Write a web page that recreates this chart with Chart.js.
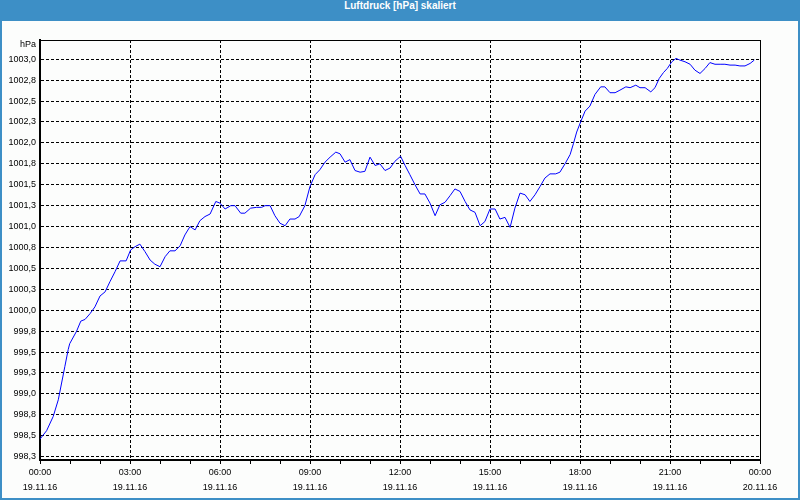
<!DOCTYPE html>
<html>
<head>
<meta charset="utf-8">
<script src="https://cdn.jsdelivr.net/npm/chart.js@4.4.0/dist/chart.umd.min.js"></script>
<style>
    html, body { margin: 0; padding: 0; background: #fff; }
    #frame { position: relative; width: 800px; height: 500px; background: #3d8fc6; overflow: hidden; }
    #title { position: absolute; left: 0; top: 0; width: 800px; height: 21px; line-height: 19px; text-align: center; color: #fff; font: bold 10px "Liberation Sans", Arial, sans-serif; }
    #panel { position: absolute; left: 2px; top: 21px; width: 796px; height: 477px; background: #fcfdfc; }
</style>
</head>
<body>
<div id="frame">
    <div id="title">Luftdruck [hPa] skaliert</div>
    <div id="panel"><canvas id="myChart" width="796" height="477"></canvas></div>
</div>
<script>
// time in hours since 19.11.16 00:00, pressure in hPa
const hours = [
    0.00, 0.22, 0.44, 0.61, 0.72, 0.83, 0.94, 0.99, 1.22, 1.36, 1.50, 1.67, 1.83,
    2.00, 2.17, 2.33, 2.50, 2.67, 2.87, 3.02, 3.17, 3.33, 3.50, 3.67, 3.83,
    4.00, 4.17, 4.33, 4.50, 4.67, 4.83, 5.00, 5.17, 5.33, 5.50, 5.67, 5.86,
    6.00, 6.17, 6.36, 6.50, 6.69, 6.83, 7.02, 7.22, 7.39, 7.50, 7.67, 7.83,
    8.00, 8.17, 8.33, 8.50, 8.64, 8.83, 9.00, 9.17, 9.33, 9.50, 9.67, 9.86,
    10.00, 10.17, 10.33, 10.50, 10.67, 10.83, 11.00, 11.17, 11.33, 11.50, 11.67, 11.83,
    12.02, 12.17, 12.33, 12.50, 12.67, 12.83, 13.00, 13.17, 13.33, 13.50, 13.67, 13.83,
    14.00, 14.17, 14.33, 14.50, 14.67, 14.83, 15.00, 15.17, 15.33, 15.50, 15.67, 15.83,
    16.00, 16.17, 16.33, 16.50, 16.67, 16.83, 17.00, 17.19, 17.33, 17.50, 17.67, 17.78, 17.89,
    18.02, 18.17, 18.33, 18.50, 18.69, 18.83, 19.00, 19.17, 19.33, 19.53, 19.67, 19.86,
    20.00, 20.17, 20.36, 20.50, 20.64, 20.78, 20.91, 21.06, 21.20, 21.33, 21.50, 21.67, 21.83,
    22.00, 22.17, 22.33, 22.50, 22.67, 22.83, 23.00, 23.17, 23.33, 23.50, 23.67, 23.81
];
const pressure = [
    998.46, 998.56, 998.73, 998.93, 999.13, 999.33, 999.53, 999.60, 999.75, 999.87, 999.89, 999.96, 1000.04,
    1000.17, 1000.22, 1000.34, 1000.46, 1000.59, 1000.59, 1000.72, 1000.76, 1000.79, 1000.70, 1000.60, 1000.55,
    1000.52, 1000.64, 1000.71, 1000.71, 1000.77, 1000.90, 1001.00, 1000.96, 1001.07, 1001.12, 1001.15, 1001.30,
    1001.28, 1001.21, 1001.25, 1001.25, 1001.16, 1001.16, 1001.22, 1001.23, 1001.23, 1001.25, 1001.25, 1001.13,
    1001.04, 1001.01, 1001.09, 1001.09, 1001.12, 1001.25, 1001.48, 1001.62, 1001.68, 1001.77, 1001.83, 1001.89,
    1001.87, 1001.77, 1001.80, 1001.67, 1001.65, 1001.66, 1001.83, 1001.73, 1001.75, 1001.67, 1001.70, 1001.78,
    1001.84, 1001.73, 1001.62, 1001.50, 1001.39, 1001.39, 1001.28, 1001.13, 1001.26, 1001.29, 1001.37, 1001.45,
    1001.42, 1001.30, 1001.20, 1001.17, 1001.01, 1001.06, 1001.21, 1001.21, 1001.09, 1001.11, 1000.99, 1001.22,
    1001.40, 1001.38, 1001.30, 1001.38, 1001.48, 1001.58, 1001.63, 1001.63, 1001.65, 1001.75, 1001.86, 1001.99, 1002.13,
    1002.25, 1002.38, 1002.44, 1002.58, 1002.67, 1002.67, 1002.60, 1002.60, 1002.63, 1002.67, 1002.66, 1002.69,
    1002.66, 1002.66, 1002.61, 1002.66, 1002.77, 1002.84, 1002.89, 1002.97, 1003.01, 1002.99, 1002.97, 1002.94, 1002.87,
    1002.83, 1002.89, 1002.96, 1002.94, 1002.94, 1002.94, 1002.93, 1002.93, 1002.92, 1002.92, 1002.95, 1002.99
];

const yTickValues = [998.25, 998.5, 998.75, 999.0, 999.25, 999.5, 999.75, 1000.0, 1000.25, 1000.5,
    1000.75, 1001.0, 1001.25, 1001.5, 1001.75, 1002.0, 1002.25, 1002.5, 1002.75, 1003.0];
const yTickLabels = ['998,3', '998,5', '998,8', '999,0', '999,3', '999,5', '999,8', '1000,0', '1000,3', '1000,5',
    '1000,8', '1001,0', '1001,3', '1001,5', '1001,8', '1002,0', '1002,3', '1002,5', '1002,8', '1003,0'];
const xTickHours = [0, 1, 2, 3, 4, 5, 6, 7, 8, 9, 10, 11, 12, 13, 14, 15, 16, 17, 18, 19, 20, 21, 22, 23, 24];
const xTimeLabels = ['00:00', '03:00', '06:00', '09:00', '12:00', '15:00', '18:00', '21:00', '00:00'];
const xDateLabels = ['19.11.16', '19.11.16', '19.11.16', '19.11.16', '19.11.16', '19.11.16', '19.11.16', '19.11.16', '20.11.16'];
const unitLabel = 'hPa';

const tickFont = { family: '"Liberation Sans", Arial, sans-serif', size: 9, lineHeight: '15px' };

// top/right frame and unit label
const framePlugin = {
    id: 'frame',
    afterDraw(chart) {
        const ctx = chart.ctx;
        const a = chart.chartArea;
        ctx.save();
        ctx.strokeStyle = '#000';
        ctx.lineWidth = 1;
        ctx.setLineDash([]);
        ctx.beginPath();
        ctx.moveTo(a.left, a.top + 0.5);
        ctx.lineTo(a.right + 1, a.top + 0.5);
        ctx.moveTo(a.right + 0.5, a.top);
        ctx.lineTo(a.right + 0.5, a.bottom);
        ctx.stroke();
        ctx.font = '9px "Liberation Sans", Arial, sans-serif';
        ctx.fillStyle = '#000';
        ctx.textAlign = 'right';
        ctx.textBaseline = 'middle';
        ctx.fillText(unitLabel, a.left - 4, a.top + 5);
        ctx.restore();
    }
};

const ctx = document.getElementById('myChart').getContext('2d');
const myChart = new Chart(ctx, {
    type: 'line',
    data: {
        datasets: [{
            label: 'Luftdruck',
            data: hours.map((h, i) => ({ x: h, y: pressure[i] })),
            borderColor: '#0000ff',
            borderWidth: 1,
            pointRadius: 0,
            tension: 0,
            fill: false
        }]
    },
    options: {
        responsive: false,
        animation: false,
        layout: { padding: { left: 0, right: 38, top: 19, bottom: 0 } },
        plugins: {
            legend: { display: false },
            tooltip: { enabled: false }
        },
        scales: {
            x: {
                type: 'linear',
                min: 0,
                max: 24,
                afterBuildTicks: scale => { scale.ticks = xTickHours.map(v => ({ value: v })); },
                afterFit: scale => { scale.height = 38; },
                ticks: {
                    autoSkip: false,
                    maxRotation: 0,
                    padding: 1,
                    color: '#000',
                    font: tickFont,
                    callback: value => {
                        if (value % 3 !== 0) return '';
                        const i = value / 3;
                        return [xTimeLabels[i], xDateLabels[i]];
                    }
                },
                grid: {
                    color: c => (c.tick && c.tick.value % 3 === 0) ? '#000' : 'rgba(0,0,0,0)',
                    lineWidth: 1,
                    borderDash: [3, 2],
                    tickColor: '#000',
                    tickLength: 4,
                    tickBorderDash: []
                },
                border: { display: true, color: '#000', width: 2, dash: [3, 2] }
            },
            y: {
                min: 998.21,
                max: 1003.23,
                afterBuildTicks: scale => { scale.ticks = yTickValues.map(v => ({ value: v })); },
                afterFit: scale => { scale.width = 38; },
                ticks: {
                    padding: 4,
                    color: '#000',
                    font: tickFont,
                    callback: value => yTickLabels[yTickValues.indexOf(value)]
                },
                grid: {
                    color: '#000',
                    lineWidth: 1,
                    borderDash: [3, 2],
                    drawTicks: false
                },
                border: { display: true, color: '#000', width: 2, dash: [3, 2] }
            }
        }
    },
    plugins: [framePlugin]
});
</script>
</body>
</html>
